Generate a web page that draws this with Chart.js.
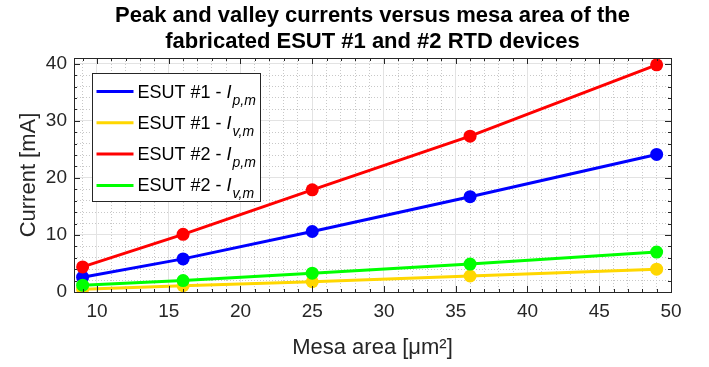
<!DOCTYPE html>
<html>
<head>
<meta charset="utf-8">
<script src="https://cdn.jsdelivr.net/npm/chart.js@4"></script>
<style>
  html, body { margin: 0; padding: 0; background: #fff; }
</style>
</head>
<body>
<canvas id="chart" width="709" height="367"></canvas>
<script>
// données
const areas = [9, 16, 25, 36, 49];
const esut1Peak = [2.6, 5.8, 10.6, 16.7, 24.1];
const esut1Valley = [0.5, 1.1, 1.8, 2.8, 4.0];
const esut2Peak = [4.4, 10.1, 17.9, 27.3, 39.8];
const esut2Valley = [1.2, 2.0, 3.3, 4.9, 7.0];

const seriesNames = ['ESUT #1 - ', 'ESUT #1 - ', 'ESUT #2 - ', 'ESUT #2 - '];
const seriesSubs = ['p,m', 'v,m', 'p,m', 'v,m'];
const seriesColors = ['#0000ff', '#ffd700', '#ff0000', '#00ff00'];

const xTickValues = [10, 15, 20, 25, 30, 35, 40, 45, 50];
const yTickValues = [0, 10, 20, 30, 40];
const xMin = 8.4, xMax = 50, yMin = 0, yMax = 41;

const titleLines = ['Peak and valley currents versus mesa area of the', 'fabricated ESUT #1 and #2 RTD devices'];
const xTitle = 'Mesa area [\u03bcm\u00b2]';
const yTitle = 'Current [mA]';

const FONT = '"Liberation Sans", Arial, Helvetica, sans-serif';
const AXIS_COLOR = '#262626';

function toPoints(ys) {
    return areas.map((x, i) => ({ x: x, y: ys[i] }));
}

const allSeries = [esut1Peak, esut1Valley, esut2Peak, esut2Valley];

// graduations mineures
let xMinorTicks = [];
for (let v = Math.ceil(xMin); v <= xMax; v++) if (v % 5 !== 0) xMinorTicks.push(v);
let yMinorTicks = [];
for (let v = yMin; v <= yMax; v += 2) if (v % 10 !== 0) yMinorTicks.push(v);

// cadre + graduations vers l'intérieur
const framePlugin = {
    id: 'frame',
    afterDatasetsDraw(chart) {
        const ctx = chart.ctx;
        const a = chart.chartArea;
        const xs = chart.scales.x, ys = chart.scales.y;
        ctx.save();
        ctx.strokeStyle = AXIS_COLOR;
        ctx.lineWidth = 1;
        ctx.beginPath();
        const tick = (vals, len) => {
            vals.forEach(v => {
                const px = Math.round(xs.getPixelForValue(v)) + 0.5;
                ctx.moveTo(px, a.bottom); ctx.lineTo(px, a.bottom - len);
                ctx.moveTo(px, a.top); ctx.lineTo(px, a.top + len);
            });
        };
        const tickY = (vals, len) => {
            vals.forEach(v => {
                const py = Math.round(ys.getPixelForValue(v)) + 0.5;
                ctx.moveTo(a.left, py); ctx.lineTo(a.left + len, py);
                ctx.moveTo(a.right, py); ctx.lineTo(a.right - len, py);
            });
        };
        tick(xTickValues, 6);
        tick(xMinorTicks, 3);
        tickY(yTickValues, 6);
        tickY(yMinorTicks, 3);
        ctx.stroke();
        ctx.strokeRect(Math.round(a.left) + 0.5, Math.round(a.top) + 0.5,
            Math.round(a.right - a.left), Math.round(a.bottom - a.top));
        ctx.restore();
    },
    afterDraw(chart) {
        // légende avec indices
        const ctx = chart.ctx;
        const a = chart.chartArea;
        const bx = Math.round(a.left) + 18.5, by = Math.round(a.top) + 15.5;
        const bw = 168, bh = 128;
        ctx.save();
        ctx.fillStyle = '#fff';
        ctx.fillRect(bx, by, bw, bh);
        ctx.strokeStyle = AXIS_COLOR;
        ctx.lineWidth = 1;
        ctx.strokeRect(bx, by, bw, bh);
        ctx.textBaseline = 'alphabetic';
        seriesNames.forEach((name, i) => {
            const cy = by + 18 + i * 31.3;
            ctx.strokeStyle = seriesColors[i];
            ctx.lineWidth = 3;
            ctx.beginPath();
            ctx.moveTo(bx + 4, cy); ctx.lineTo(bx + 41, cy);
            ctx.stroke();
            let tx = bx + 45;
            const base = cy + 6;
            ctx.fillStyle = '#000';
            ctx.font = '18px ' + FONT;
            ctx.fillText(name, tx, base);
            tx += ctx.measureText(name).width;
            ctx.font = 'italic 18px ' + FONT;
            ctx.fillText('I', tx, base);
            tx += ctx.measureText('I').width + 1;
            ctx.font = 'italic 14px ' + FONT;
            ctx.fillText(seriesSubs[i], tx, base + 7);
        });
        ctx.restore();
    }
};

const datasets = allSeries.map((ys, i) => ({
    label: seriesNames[i] + 'I' + seriesSubs[i],
    data: toPoints(ys),
    borderColor: seriesColors[i],
    backgroundColor: seriesColors[i],
    borderWidth: 3,
    pointRadius: 6.5,
    pointHoverRadius: 6.5,
    pointBorderWidth: 0,
    order: 4 - i
}));

const ctx = document.getElementById('chart').getContext('2d');
const chart = new Chart(ctx, {
    type: 'line',
    data: { datasets: datasets },
    options: {
        responsive: false,
        animation: false,
        events: [],
        layout: { padding: { left: 0, right: 38, top: 0, bottom: 0 } },
        plugins: {
            legend: { display: false },
            tooltip: { enabled: false },
            title: {
                display: true,
                text: titleLines,
                fullSize: false,
                color: '#000',
                font: { family: FONT, size: 22, weight: 'bold', lineHeight: 26 / 22 },
                padding: { top: 3, bottom: 3 }
            }
        },
        scales: {
            xMinor: {
                type: 'linear', position: 'bottom', min: xMin, max: xMax,
                afterBuildTicks: s => { s.ticks = xMinorTicks.map(v => ({ value: v })); },
                ticks: { display: false },
                grid: { drawTicks: false, color: '#c8c8c8', lineWidth: 1 },
                border: { display: false, dash: [1, 2] }
            },
            yMinor: {
                type: 'linear', position: 'left', min: yMin, max: yMax,
                afterBuildTicks: s => { s.ticks = yMinorTicks.map(v => ({ value: v })); },
                ticks: { display: false },
                grid: { drawTicks: false, color: '#c8c8c8', lineWidth: 1 },
                border: { display: false, dash: [1, 2] }
            },
            x: {
                type: 'linear', position: 'bottom', min: xMin, max: xMax,
                afterBuildTicks: s => { s.ticks = xTickValues.map(v => ({ value: v })); },
                afterFit: s => { s.height = 75; },
                ticks: { color: AXIS_COLOR, padding: 8, maxRotation: 0, font: { family: FONT, size: 19 } },
                grid: { drawTicks: false, color: '#e3e3e3', lineWidth: 1 },
                border: { display: false },
                title: {
                    display: true, text: xTitle, color: AXIS_COLOR,
                    font: { family: FONT, size: 22 }, padding: { top: 0, bottom: 6 }
                }
            },
            y: {
                type: 'linear', position: 'left', min: yMin, max: yMax,
                afterBuildTicks: s => { s.ticks = yTickValues.map(v => ({ value: v })); },
                afterFit: s => { s.width = 74; },
                ticks: { color: AXIS_COLOR, padding: 7, font: { family: FONT, size: 19 } },
                grid: { drawTicks: false, color: '#e3e3e3', lineWidth: 1 },
                border: { display: false },
                title: {
                    display: true, text: yTitle, color: AXIS_COLOR,
                    font: { family: FONT, size: 22 }, padding: { top: 16, bottom: 0 }
                }
            }
        }
    },
    plugins: [framePlugin]
});
</script>
</body>
</html>
